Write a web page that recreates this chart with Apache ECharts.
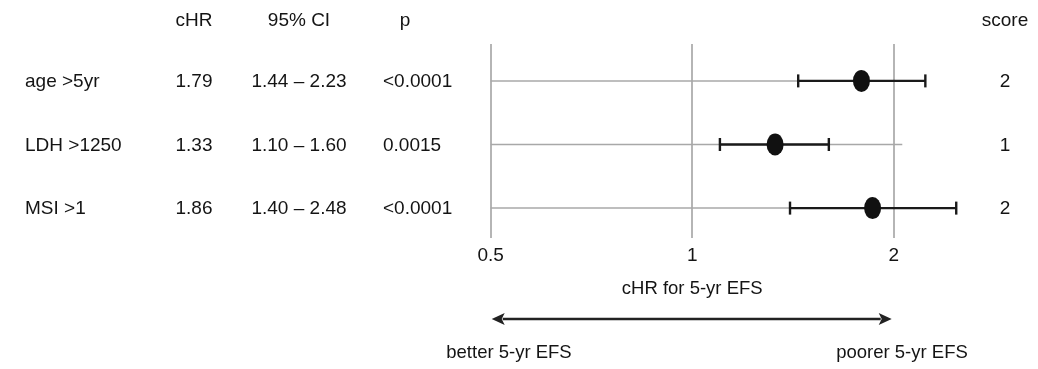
<!DOCTYPE html>
<html>
<head>
<meta charset="utf-8">
<script src="https://cdn.jsdelivr.net/npm/echarts@6/dist/echarts.min.js"></script>
<style>
  html, body { margin: 0; padding: 0; background: #ffffff; }
  #chart { width: 1038px; height: 369px; }
</style>
</head>
<body>
<div id="chart"></div>
<script>
// Cox model results: hazard ratio for 5-yr EFS with 95% confidence interval
const factors = ['age >5yr', 'LDH >1250', 'MSI >1'];
const hazardRatio = [1.79, 1.33, 1.86];
const ciLow = [1.44, 1.10, 1.40];
const ciHigh = [2.23, 1.60, 2.48];
const pValues = ['<0.0001', '0.0015', '<0.0001'];
const scores = [2, 1, 2];
const xTicks = [0.5, 1, 2];
const columnHeads = ['cHR', '95% CI', 'p', 'score'];
const axisTitle = 'cHR for 5-yr EFS';
const sideNotes = ['better 5-yr EFS', 'poorer 5-yr EFS'];
// row guide lines run from the axis start to at least this value
const guideEnd = 2.06;

const FONT = "'Liberation Sans', Arial, Helvetica, sans-serif";
const INK = '#141414';
const TXT = 19;

const chart = echarts.init(document.getElementById('chart'));
const rows = factors.map((_, i) => i);

chart.setOption({
  animation: false,
  backgroundColor: '#ffffff',
  grid: { left: 490.7, right: 1038 - 893.7, top: 44, bottom: 369 - 238 },
  xAxis: {
    type: 'log',
    logBase: 2,
    min: xTicks[0],
    max: xTicks[xTicks.length - 1],
    axisLine: { show: false },
    axisTick: { show: false },
    splitLine: { show: true, lineStyle: { color: '#9c9c9c', width: 1.5 } },
    axisLabel: {
      margin: 8,
      fontSize: TXT,
      fontFamily: FONT,
      color: INK,
      formatter: v => String(+v.toFixed(2))
    },
    name: axisTitle,
    nameLocation: 'middle',
    nameGap: 41,
    nameTextStyle: { fontSize: 18.5, fontFamily: FONT, color: INK }
  },
  yAxis: { type: 'value', inverse: true, min: -0.58, max: 2.47, show: false },
  series: [
    {
      // grey row guides
      type: 'custom',
      clip: false,
      silent: true,
      data: rows.map(i => [ciLow[i], i, ciHigh[i]]),
      encode: { x: 0, y: 1 },
      renderItem: (params, api) => {
        const i = api.value(1);
        const a = api.coord([xTicks[0], i]);
        const b = api.coord([Math.max(api.value(2), guideEnd), i]);
        return {
          type: 'line',
          shape: { x1: a[0], y1: a[1], x2: b[0], y2: b[1] },
          style: { stroke: '#a8a8a8', lineWidth: 1.5 }
        };
      }
    },
    {
      // confidence interval whiskers
      type: 'custom',
      clip: false,
      silent: true,
      data: rows.map(i => [ciLow[i], i, ciHigh[i]]),
      encode: { x: [0, 2], y: 1 },
      renderItem: (params, api) => {
        const i = api.value(1);
        const a = api.coord([api.value(0), i]);
        const b = api.coord([api.value(2), i]);
        const h = 6.5;
        const st = { stroke: '#1a1a1a', lineWidth: 2.4 };
        return {
          type: 'group',
          children: [
            { type: 'line', shape: { x1: a[0], y1: a[1], x2: b[0], y2: b[1] }, style: st },
            { type: 'line', shape: { x1: a[0], y1: a[1] - h, x2: a[0], y2: a[1] + h }, style: st },
            { type: 'line', shape: { x1: b[0], y1: b[1] - h, x2: b[0], y2: b[1] + h }, style: st }
          ]
        };
      }
    },
    {
      // point estimates
      type: 'scatter',
      silent: true,
      symbol: 'circle',
      symbolSize: [17, 22],
      itemStyle: { color: '#111111', opacity: 1 },
      data: rows.map(i => [hazardRatio[i], i])
    }
  ]
});

// table columns and annotations placed against the chart's own scales
const toPx = (x, y) => chart.convertToPixel({ gridIndex: 0 }, [x, y]);
const txt = (text, x, y, align, size) => ({
  type: 'text',
  silent: true,
  style: {
    text: text, x: x, y: y,
    align: align, verticalAlign: 'middle',
    fontSize: size || TXT, fontFamily: FONT, fill: INK
  }
});

const colX = { label: 25, chr: 194, ci: 299, p: 383, score: 1005 };
const headY = 21;
const graphics = [
  txt(columnHeads[0], colX.chr, headY, 'center'),
  txt(columnHeads[1], colX.ci, headY, 'center'),
  txt(columnHeads[2], 405, headY, 'center'),
  txt(columnHeads[3], colX.score, headY, 'center')
];
rows.forEach(i => {
  const y = toPx(1, i)[1] + 1;
  graphics.push(txt(factors[i], colX.label, y, 'left'));
  graphics.push(txt(hazardRatio[i].toFixed(2), colX.chr, y, 'center'));
  graphics.push(txt(ciLow[i].toFixed(2) + ' \u2013 ' + ciHigh[i].toFixed(2), colX.ci, y, 'center'));
  graphics.push(txt(pValues[i], colX.p, y, 'left'));
  graphics.push(txt(String(scores[i]), colX.score, y, 'center'));
});

// double-headed direction arrow under the axis
const ax0 = toPx(xTicks[0], 0)[0] + 1;
const ax1 = toPx(xTicks[xTicks.length - 1], 0)[0] - 2;
const ay = 319;
const hl = 13, hw = 6;
graphics.push({
  type: 'line', silent: true,
  shape: { x1: ax0 + hl - 2, y1: ay, x2: ax1 - hl + 2, y2: ay },
  style: { stroke: '#222222', lineWidth: 2.5 }
});
graphics.push({
  type: 'polygon', silent: true,
  shape: { points: [[ax0, ay], [ax0 + hl, ay - hw], [ax0 + hl - 3, ay], [ax0 + hl, ay + hw]] },
  style: { fill: '#222222' }
});
graphics.push({
  type: 'polygon', silent: true,
  shape: { points: [[ax1, ay], [ax1 - hl, ay - hw], [ax1 - hl + 3, ay], [ax1 - hl, ay + hw]] },
  style: { fill: '#222222' }
});
graphics.push(txt(sideNotes[0], 509, 353, 'center', 18.5));
graphics.push(txt(sideNotes[1], 902, 353, 'center', 18.5));

chart.setOption({ graphic: { elements: graphics } });
</script>
</body>
</html>
